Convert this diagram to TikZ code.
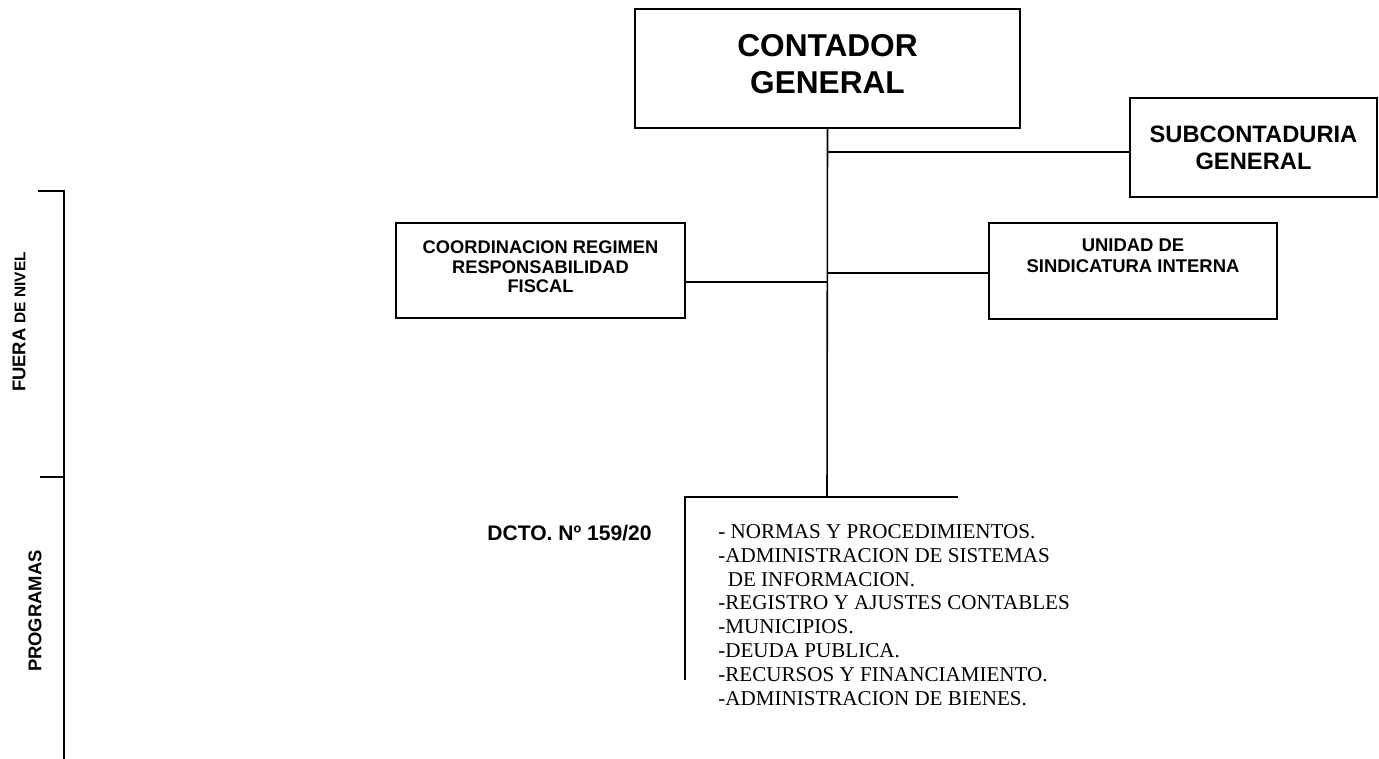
\documentclass[tikz,border=0pt]{standalone}
\usepackage{fontspec}
\setmainfont{Liberation Sans}
\newfontfamily\listfont{Liberation Serif}
\usetikzlibrary{positioning,calc}
\tikzset{
  ob/.style={rectangle, draw=black, line width=1pt, inner sep=0pt, align=center},
  ln/.style={line width=0.9pt},
  side/.style={rotate=90, inner sep=0pt, font=\bfseries\fontsize{10.5}{12}\selectfont},
}

\begin{document}
\begin{tikzpicture}[x=0.02cm, y=-0.02cm]
	\useasboundingbox (0,0) rectangle (1379,759);
	% boxes
	\node[ob, minimum width=7.7cm, minimum height=2.38cm, font=\bfseries\fontsize{18}{21}\selectfont] (cg) at (827.5,68.5) {CONTADOR\\GENERAL\\[-16pt]\mbox{}};
	\node[ob, minimum width=4.94cm, minimum height=1.98cm, font=\bfseries\fontsize{13.5}{15.5}\selectfont] (scg) at (1253.5,147.5) {SUBCONTADURIA\\GENERAL};
	\node[ob, minimum width=5.78cm, minimum height=1.9cm, font=\bfseries\fontsize{10.4}{10.9}\selectfont] (crrf) at (540.5,270.5) {COORDINACION REGIMEN\\RESPONSABILIDAD\\FISCAL\\[-6.5pt]\mbox{}};
	\node[ob, minimum width=5.76cm, minimum height=1.92cm, font=\bfseries\fontsize{10.5}{11.7}\selectfont] (usi) at (1133,271) {UNIDAD DE\\SINDICATURA INTERNA\\[6pt]\mbox{}};
	% programas
	\node[anchor=base west, inner sep=0pt, font=\bfseries\fontsize{12}{14}\selectfont] (dcto) at (487,541) {DCTO. Nº 159/20};
	\node[anchor=north west, align=left, inner sep=0pt, font=\listfont\fontsize{12}{13.6}\selectfont] (prg) at (718,524) {- NORMAS Y PROCEDIMIENTOS.\\-ADMINISTRACION DE SISTEMAS\\\hspace*{0.45em}DE INFORMACION.\\-REGISTRO Y AJUSTES CONTABLES\\-MUNICIPIOS.\\-DEUDA PUBLICA.\\-RECURSOS Y FINANCIAMIENTO.\\-ADMINISTRACION DE BIENES.};
	% niveles
	\node[side] (fdn) at (19,322) {FUERA {\fontsize{8.8}{10}\selectfont DE NIVEL}};
	\node[side] (pgm) at (35,611) {PROGRAMAS};
	%
	\coordinate (sj) at (827,152);
	\coordinate (lj) at (827,282);
	\coordinate (rj) at (827,273);
	\coordinate (pj) at (827,497);
	\coordinate (pl) at (685,497);
	\coordinate (pr) at (958,497);
	\coordinate (pe) at (685,680);
	\draw[ln] (cg.south) -- (pj);
	\draw[ln] (sj) -- (scg.west |- sj);
	\draw[ln] (crrf.east |- lj) -- (lj);
	\draw[ln] (rj) -- (usi.west |- rj);
	\draw[ln] (pr) -- (pl) -- (pe);
	% escala lateral
	\coordinate (nt) at (64,191);
	\coordinate (nm) at (64,477);
	\coordinate (nb) at (64,759);
	\draw[ln] (38,191) -- (nt) -- (nb);
	\draw[ln] (40,477) -- (nm);
\end{tikzpicture}
\end{document}
